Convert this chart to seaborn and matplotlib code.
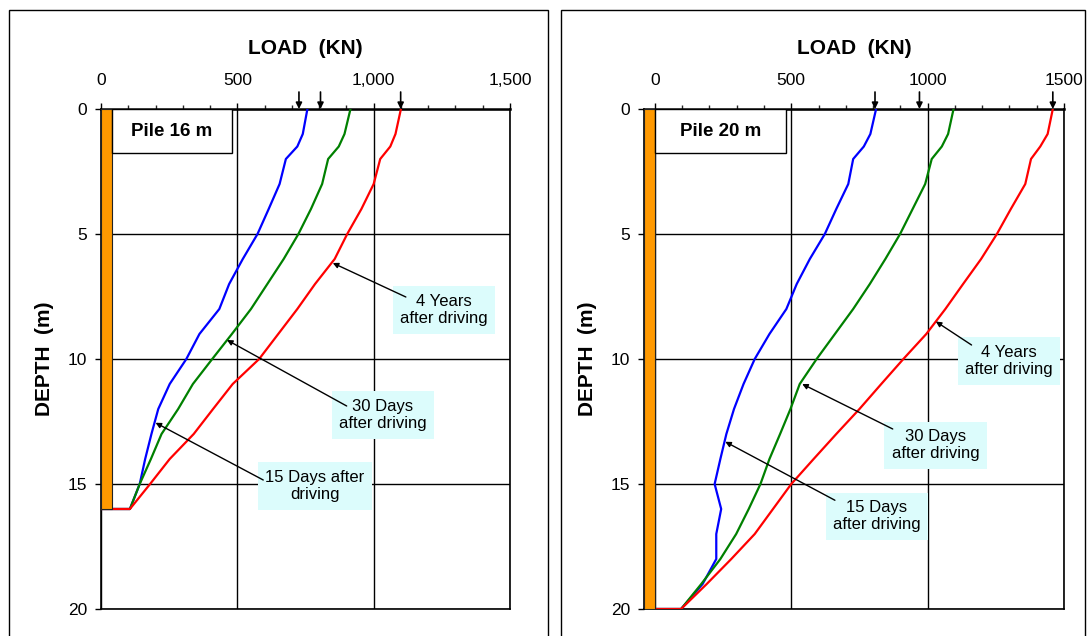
import matplotlib
matplotlib.use("Agg")
import matplotlib.pyplot as plt
import numpy as np
import pandas as pd
import seaborn as sns
from matplotlib.patches import Rectangle
from matplotlib.ticker import MultipleLocator

# --- data --------------------------------------------------------------
depth_16 = [0, 1, 1.5, 2, 3, 4, 5, 6, 7, 8, 9, 10, 11, 12, 13, 14, 15, 16, 16]
load_16_15d = [757, 740, 720, 678, 655, 615, 574, 520, 470, 434, 361, 313, 252,
               210, 185, 162, 142, 106, 0]
load_16_30d = [915, 893, 872, 833, 811, 770, 724, 670, 610, 550, 480, 408, 337,
               283, 222, 183, 142, 106, 0]
load_16_4y = [1100, 1080, 1061, 1024, 1000, 955, 903, 857, 785, 720, 650, 580,
              483, 411, 340, 252, 180, 106, 0]

depth_20 = [0, 1, 1.5, 2, 3, 4, 5, 6, 7, 8, 9, 10, 11, 12, 13, 14, 15, 16, 17,
            18, 19, 20, 20]
load_20_15d = [811, 790, 766, 727, 709, 665, 623, 568, 520, 482, 420, 366, 325,
               290, 262, 240, 219, 243, 225, 225, 175, 96, 0]
load_20_30d = [1095, 1075, 1052, 1015, 991, 945, 899, 845, 788, 727, 660, 593,
               531, 497, 459, 420, 387, 344, 298, 240, 170, 96, 0]
load_20_4y = [1459, 1440, 1413, 1379, 1358, 1305, 1254, 1196, 1130, 1065, 995,
              911, 830, 750, 665, 582, 500, 433, 366, 280, 190, 96, 0]

top_arrows_16 = [726, 805, 1099]
top_arrows_20 = [807, 970, 1459]
xtick_labels_16 = ["0", "500", "1,000", "1,500"]
xtick_labels_20 = ["0", "500", "1000", "1500"]
series_names = ["15 Days", "30 Days", "4 Years"]
colors = {"15 Days": "#0000ff", "30 Days": "#008000", "4 Years": "#ff0000"}

sns.set_theme(style="white")
plt.rcParams["font.family"] = ["Liberation Sans", "DejaVu Sans"]
plt.rcParams["text.color"] = "black"
plt.rcParams["axes.labelcolor"] = "black"


def long_frame(depth, loads):
    rows = []
    for name, vals in zip(series_names, loads):
        for d, v in zip(depth, vals):
            rows.append({"depth": d, "load": v, "series": name})
    return pd.DataFrame(rows)


def draw_panel(ax, df, pile_len, xmin, tick_labels, arrows, pile_label, notes):
    sns.lineplot(data=df, x="load", y="depth", hue="series", palette=colors,
                 sort=False, estimator=None, linewidth=1.6, legend=False, ax=ax,
                 zorder=3)
    ax.set_xlim(xmin, 1500)
    ax.set_ylim(20, 0)
    ax.xaxis.tick_top()
    ax.xaxis.set_label_position("top")
    ax.set_xticks([0, 500, 1000, 1500])
    ax.set_xticklabels(tick_labels)
    ax.xaxis.set_minor_locator(MultipleLocator(100))
    ax.set_yticks([0, 5, 10, 15, 20])
    ax.tick_params(axis="x", which="major", direction="out", length=4, width=1,
                   pad=11, labelsize=12.5, colors="black", top=True, bottom=False)
    ax.tick_params(axis="x", which="minor", direction="out", length=3, width=1,
                   top=True, bottom=False)
    ax.tick_params(axis="y", direction="out", length=4, width=1, pad=6,
                   labelsize=12.5, colors="black", left=True)
    ax.set_xlabel("LOAD  (KN)", fontsize=15, fontweight="bold", labelpad=14)
    ax.set_ylabel("DEPTH  (m)", fontsize=15, fontweight="bold", labelpad=10)
    ax.grid(True, which="major", color="black", linewidth=1)
    for s in ax.spines.values():
        s.set_color("black")
        s.set_linewidth(1.2)
    ax.spines["top"].set_linewidth(1.8)

    # pile
    if xmin < 0:
        ax.add_patch(Rectangle((xmin, 0), -xmin, pile_len, facecolor="#ff9900",
                               edgecolor="#222222", lw=0.8, zorder=4))
        box_x0 = 0
    else:
        ax.add_patch(Rectangle((0, 0), 39, pile_len, facecolor="#ff9900",
                               edgecolor="#222222", lw=0.8, zorder=4))
        box_x0 = 39
    ax.add_patch(Rectangle((box_x0, 0), 480 - box_x0, 1.78, facecolor="white",
                           edgecolor="black", lw=1, zorder=4))
    ax.text((box_x0 + 480) / 2, 0.9, pile_label, ha="center", va="center",
            fontsize=13.5, fontweight="bold", zorder=5)

    # arrows on top axis
    for v in arrows:
        ax.annotate("", xy=(v, 1.0), xycoords=("data", "axes fraction"),
                    xytext=(v, 1.034), textcoords=("data", "axes fraction"),
                    arrowprops=dict(arrowstyle="-|>", color="black", lw=1.2,
                                    mutation_scale=9, shrinkA=0, shrinkB=0))

    # callouts
    for text, center, start, tip in notes:
        ax.text(center[0], center[1], text, ha="center", va="center",
                multialignment="center", fontsize=12, zorder=5,
                bbox=dict(boxstyle="square,pad=0.45", facecolor="#dcfcfc",
                          edgecolor="none"))
        ax.annotate("", xy=tip, xytext=start,
                    arrowprops=dict(arrowstyle="-|>", color="black", lw=1,
                                    mutation_scale=8, shrinkA=0, shrinkB=0),
                    zorder=6)


fig = plt.figure(figsize=(10.9, 6.36), dpi=100)
ax1 = fig.add_axes([101 / 1090, 1 - 609 / 636, 409 / 1090, 500 / 636])
ax2 = fig.add_axes([644 / 1090, 1 - 609 / 636, 420 / 1090, 500 / 636])

df16 = long_frame(depth_16, [load_16_15d, load_16_30d, load_16_4y])
df20 = long_frame(depth_20, [load_20_15d, load_20_30d, load_20_4y])

notes_16 = [
    ("4 Years\nafter driving", (1258, 8.04), (1118, 7.52), (850, 6.16)),
    ("30 Days\nafter driving", (1034, 12.24), (901, 11.88), (462, 9.24)),
    ("15 Days after\ndriving", (785, 15.08), (595, 14.84), (200, 12.55)),
]
notes_20 = [
    ("4 Years\nafter driving", (1298, 10.08), (1161, 9.44), (1030, 8.5)),
    ("30 Days\nafter driving", (1029, 13.45), (872, 12.8), (540, 11.0)),
    ("15 Days\nafter driving", (814, 16.29), (660, 15.65), (258, 13.31)),
]

draw_panel(ax1, df16, 16, 0, xtick_labels_16, top_arrows_16, "Pile 16 m", notes_16)
draw_panel(ax2, df20, 20, -40, xtick_labels_20, top_arrows_20, "Pile 20 m", notes_20)

# panel frames
fig.add_artist(Rectangle((9 / 1090, -0.05), 539 / 1090, 1.05 - 10 / 636,
                         transform=fig.transFigure, fill=False,
                         edgecolor="black", lw=1))
fig.add_artist(Rectangle((561 / 1090, -0.05), 524 / 1090, 1.05 - 10 / 636,
                         transform=fig.transFigure, fill=False,
                         edgecolor="black", lw=1))

fig.savefig("out.png", dpi=100, facecolor="white")
